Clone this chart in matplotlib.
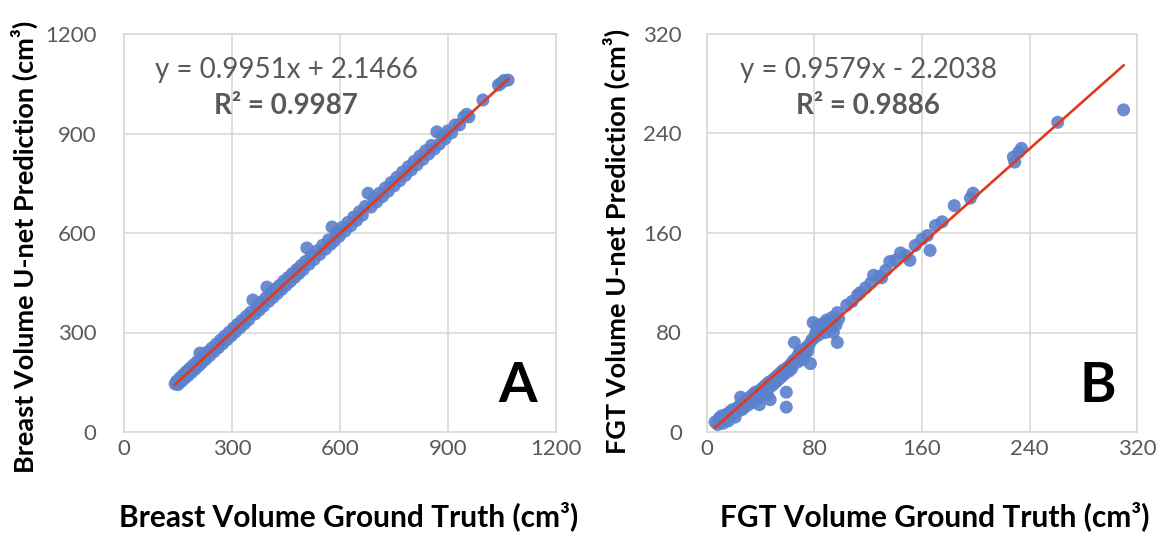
import matplotlib
matplotlib.use("Agg")
import matplotlib.pyplot as plt
import numpy as np

plt.rcParams['font.family'] = ['Lato', 'DejaVu Sans']

# Panel A: breast volume (cm3)
breast_truth = [142, 146, 150, 155, 160, 164, 168, 173, 178, 183, 188, 193, 198, 203, 208,
                211, 215, 220, 226, 232, 238, 244, 250, 256, 262, 268, 274, 280, 286, 292,
                298, 304, 310, 316, 322, 328, 334, 340, 346, 352, 358, 364, 370, 376, 382,
                388, 394, 397, 402, 408, 414, 420, 426, 432, 438, 444, 450, 456, 462, 468,
                474, 480, 486, 492, 498, 504, 508, 514, 520, 528, 536, 544, 552, 560, 568,
                574, 578, 584, 590, 598, 606, 614, 622, 630, 638, 646, 654, 662, 670, 678,
                686, 694, 702, 710, 718, 726, 734, 742, 750, 758, 766, 774, 782, 790, 798,
                806, 814, 822, 830, 838, 846, 854, 862, 869, 876, 884, 892, 900, 910, 920,
                932, 944, 952, 958, 997, 1040, 1048, 1056, 1067]
breast_pred = [145, 153, 143, 163, 153, 172, 161, 182, 170, 192, 180, 202, 190, 212, 200,
               238, 208, 229, 218, 241, 230, 253, 242, 265, 254, 277, 266, 289, 278, 301,
               290, 313, 302, 325, 314, 337, 326, 349, 338, 361, 398, 356, 380, 368, 392,
               380, 404, 437, 394, 418, 406, 431, 418, 442, 430, 455, 442, 466, 454, 478,
               466, 490, 478, 502, 490, 514, 555, 506, 530, 520, 546, 536, 563, 552, 579,
               566, 618, 576, 601, 590, 617, 606, 632, 622, 648, 638, 664, 654, 680, 720,
               678, 704, 694, 720, 710, 736, 726, 752, 742, 768, 758, 784, 774, 800, 790,
               816, 806, 832, 822, 848, 838, 864, 853, 905, 868, 892, 884, 908, 902, 926,
               926, 950, 958, 950, 1001, 1046, 1052, 1060, 1061]
breast_fit = (0.9951, 2.1466)
breast_r2 = 0.9987

# Panel B: FGT volume (cm3)
fgt_truth = [6, 8, 9, 10, 11, 12, 13, 14, 15, 16, 17, 18, 19, 20, 21, 22, 23, 24, 25, 26,
             27, 28, 29, 30, 31, 32, 33, 34, 35, 36, 37, 38, 39, 40, 41, 42, 43, 44, 45, 46,
             47, 48, 49, 50, 51, 52, 53, 54, 55, 56, 57, 58, 59, 59, 60, 61, 62, 63, 64, 65,
             66, 67, 68, 69, 70, 71, 72, 73, 74, 75, 76, 77, 78, 79, 80, 81, 82, 83, 84, 85,
             86, 87, 88, 89, 90, 91, 92, 93, 94, 95, 96, 97, 97, 98, 104, 108, 112, 114, 118,
             122, 124, 128, 130, 133, 136, 140, 144, 148, 151, 155, 160, 164, 166, 170, 175,
             184, 196, 198, 228, 229, 232, 234, 261, 310]
fgt_pred = [8, 6, 11, 9, 13, 7, 10, 14, 12, 9, 16, 13, 18, 15, 12, 19, 17, 21, 28, 18,
            23, 20, 26, 24, 22, 28, 26, 30, 24, 32, 29, 27, 22, 34, 31, 36, 33, 38, 30, 40,
            26, 37, 42, 39, 44, 41, 46, 43, 48, 45, 50, 47, 32, 20, 52, 49, 54, 51, 57, 72,
            59, 56, 62, 65, 61, 58, 66, 63, 68, 65, 70, 55, 74, 88, 76, 80, 85, 78, 86, 82,
            87, 84, 80, 90, 85, 88, 83, 92, 80, 89, 86, 96, 72, 91, 102, 105, 110, 112, 116,
            120, 126, 125, 124, 130, 137, 138, 144, 142, 138, 150, 155, 158, 146, 166, 169,
            182, 188, 192, 221, 217, 225, 228, 249, 259]
fgt_fit = (0.9579, -2.2038)
fgt_r2 = 0.9886

fig = plt.figure(figsize=(11.61, 5.36), dpi=100)
axA = fig.add_axes([124 / 1161, 104 / 536, 432 / 1161, 398 / 536])
axB = fig.add_axes([707 / 1161, 104 / 536, 430 / 1161, 398 / 536])

dot_color = '#5B80CC'
line_color = '#E03A1E'
grey = '#595959'


def draw_panel(ax, xs, ys, fit, r2, lim, step, xlabel, ylabel, letter, eq_sign, ypad):
    ax.scatter(xs, ys, s=88, color=dot_color, alpha=0.9, edgecolors='none', zorder=3)
    x_line = np.array([min(xs), max(xs)])
    ax.plot(x_line, fit[0] * x_line + fit[1], color=line_color, lw=1.9, zorder=4)
    ax.set_xlim(0, lim)
    ax.set_ylim(0, lim)
    ticks = np.arange(0, lim + 1, step)
    ax.set_xticks(ticks)
    ax.set_yticks(ticks)
    ax.grid(True, color='#D9D9D9', lw=1.2)
    ax.set_axisbelow(True)
    for sp in ax.spines.values():
        sp.set_color('#D9D9D9')
        sp.set_linewidth(1.2)
    ax.tick_params(length=0, labelsize=16, labelcolor=grey)
    ax.tick_params(axis='x', pad=5)
    ax.tick_params(axis='y', pad=ypad)
    ax.set_xlabel(xlabel, fontsize=21.5, fontweight='bold')
    ax.set_ylabel(ylabel, fontsize=19.5, fontweight='bold')
    eq = 'y = %.4fx %s %.4f' % (fit[0], eq_sign, abs(fit[1]))
    ax.text(0.375, 0.91, eq, transform=ax.transAxes, ha='center', va='center',
            fontsize=20, color=grey)
    ax.text(0.375, 0.82, 'R² = %.4f' % r2, transform=ax.transAxes, ha='center',
            va='center', fontsize=20, color=grey, fontweight='bold')
    ax.text(0.91, 0.115, letter, transform=ax.transAxes, ha='center', va='center',
            fontsize=40, fontweight='bold')


draw_panel(axA, breast_truth, breast_pred, breast_fit, breast_r2, 1200, 300,
           'Breast Volume Ground Truth (cm³)', 'Breast Volume U-net Prediction (cm³)', 'A', '+', 20)
draw_panel(axB, fgt_truth, fgt_pred, fgt_fit, fgt_r2, 320, 80,
           'FGT Volume Ground Truth (cm³)', 'FGT Volume U-net Prediction (cm³)', 'B', '-', 18)

axA.xaxis.set_label_coords(0.52, -0.175)
axA.yaxis.set_label_coords(-0.20, 0.465)
axB.xaxis.set_label_coords(0.53, -0.175)
axB.yaxis.set_label_coords(-0.18, 0.48)

fig.savefig('out.png', dpi=100)
